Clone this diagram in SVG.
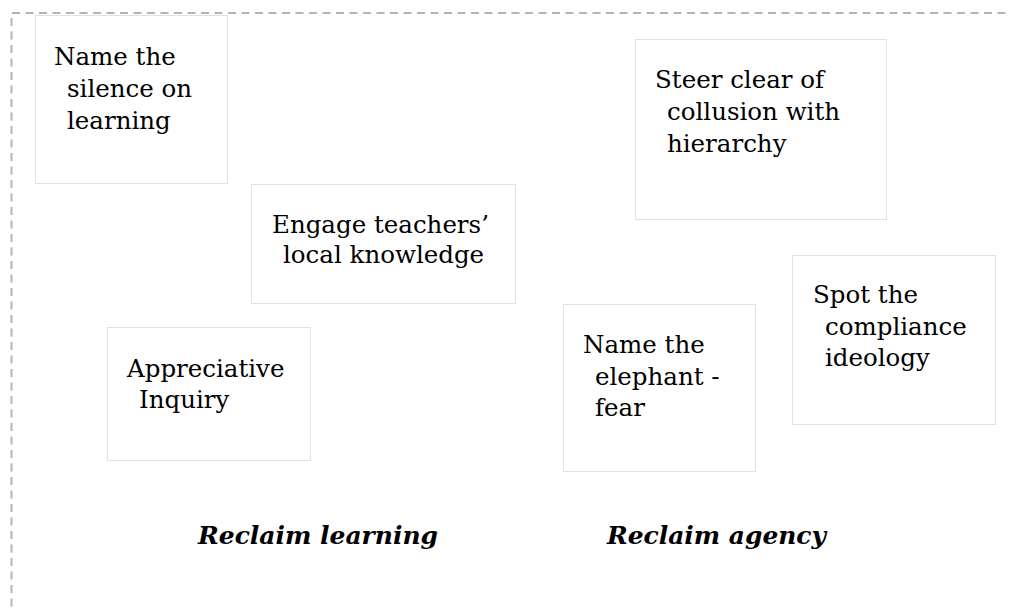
<svg xmlns="http://www.w3.org/2000/svg" width="1010" height="608" viewBox="0 0 1010 608">
<style>
.frame{fill:none;stroke:#b4b4b4;stroke-width:2;stroke-dasharray:8,5.5}
.box{fill:#fff;stroke:#c4c4c4;stroke-width:1;stroke-dasharray:1,1}
.t{font-family:"DejaVu Serif","Liberation Serif",serif;font-size:24.5px;fill:#000}
.h{font-family:"DejaVu Serif","Liberation Serif",serif;font-size:24px;font-weight:bold;font-style:italic;fill:#000}
</style>
<rect width="1010" height="608" fill="#fff"/>
<path class="frame" d="M11.5,620 V13 H1020"/>
<g id="connectors"/>
<g id="n1">
<rect class="box" x="35.5" y="15.5" width="192" height="168"/>
<text class="t"><tspan x="54" y="65">Name the</tspan><tspan x="67" y="97">silence on</tspan><tspan x="67" y="129">learning</tspan></text>
</g>
<g id="n2">
<rect class="box" x="251.5" y="184.5" width="264" height="119"/>
<text class="t"><tspan x="272" y="233">Engage teachers’</tspan><tspan x="283" y="263">local knowledge</tspan></text>
</g>
<g id="n3">
<rect class="box" x="107.5" y="327.5" width="203" height="133"/>
<text class="t"><tspan x="127" y="377">Appreciative</tspan><tspan x="139" y="408">Inquiry</tspan></text>
</g>
<g id="n4">
<rect class="box" x="635.5" y="39.5" width="251" height="180"/>
<text class="t"><tspan x="655" y="88">Steer clear of</tspan><tspan x="667" y="120">collusion with</tspan><tspan x="667" y="152">hierarchy</tspan></text>
</g>
<g id="n5">
<rect class="box" x="792.5" y="255.5" width="203" height="169"/>
<text class="t"><tspan x="813" y="303">Spot the</tspan><tspan x="825" y="335">compliance</tspan><tspan x="825" y="366">ideology</tspan></text>
</g>
<g id="n6">
<rect class="box" x="563.5" y="304.5" width="192" height="167"/>
<text class="t"><tspan x="583" y="353">Name the</tspan><tspan x="595" y="385">elephant -</tspan><tspan x="595" y="416">fear</tspan></text>
</g>
<g id="labels">
<text class="h" x="198" y="544" textLength="240" lengthAdjust="spacingAndGlyphs">Reclaim learning</text>
<text class="h" x="607" y="544" textLength="219" lengthAdjust="spacingAndGlyphs">Reclaim agency</text>
</g>
</svg>
